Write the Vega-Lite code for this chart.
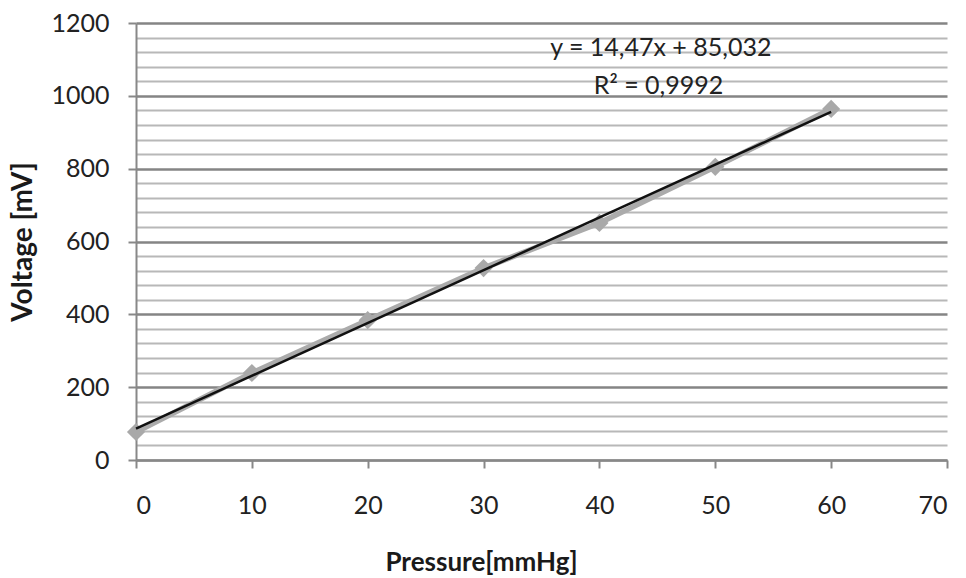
{
  "$schema": "https://vega.github.io/schema/vega-lite/v6.json",
  "width": 811,
  "height": 437,
  "autosize": {"type": "none"},
  "padding": {"left": 136, "top": 23, "right": 19, "bottom": 118},
  "background": "white",
  "config": {"view": {"stroke": null}, "font": "Lato"},
  "datasets": {
    "points": [
      {"pressure": 0, "voltage": 77},
      {"pressure": 10, "voltage": 239},
      {"pressure": 20, "voltage": 384},
      {"pressure": 30, "voltage": 527},
      {"pressure": 40, "voltage": 651},
      {"pressure": 50, "voltage": 805},
      {"pressure": 60, "voltage": 964}
    ],
    "notes": [
      {"pressure": 45.3, "voltage": 1131, "text": "y = 14,47x + 85,032"},
      {"pressure": 45.1, "voltage": 1027, "text": "R² = 0,9992"}
    ]
  },
  "layer": [
    {
      "data": {"name": "points"},
      "mark": {"type": "line", "color": "#ababab", "strokeWidth": 5.5},
      "encoding": {
        "x": {
          "field": "pressure", "type": "quantitative",
          "scale": {"domain": [0, 70], "nice": false},
          "axis": {
            "values": [0, 10, 20, 30, 40, 50, 60, 70],
            "tickCount": 20,
            "title": "Pressure[mmHg]",
            "titleFontSize": 26, "titleFontWeight": "bold", "titleColor": "#1a1a1a",
            "titlePadding": 31, "titleX": 345, "titleAlign": "center",
            "labelFontSize": 25, "labelColor": "#222", "labelPadding": 25,
            "grid": false,
            "domainColor": "#888", "domainWidth": 2,
            "tickColor": "#888", "tickWidth": 2, "tickSize": 8
          }
        },
        "y": {
          "field": "voltage", "type": "quantitative",
          "scale": {"domain": [0, 1200], "nice": false},
          "axis": {
            "values": [0, 40, 80, 120, 160, 200, 240, 280, 320, 360, 400, 440, 480, 520, 560, 600, 640, 680, 720, 760, 800, 840, 880, 920, 960, 1000, 1040, 1080, 1120, 1160, 1200],
            "tickCount": 60,
            "labelOverlap": false,
            "labelExpr": "datum.value % 200 === 0 ? datum.value : ''",
            "title": "Voltage [mV]",
            "titleFontSize": 28, "titleFontWeight": "bold", "titleColor": "#1a1a1a",
            "titlePadding": 13,
            "labelFontSize": 25, "labelColor": "#222", "labelPadding": 19,
            "grid": true,
            "gridColor": {"condition": {"test": "datum.value % 200 === 0", "value": "#858585"}, "value": "#b8b8b8"},
            "gridWidth": {"condition": {"test": "datum.value % 200 === 0", "value": 2.5}, "value": 2},
            "domainColor": "#888", "domainWidth": 2,
            "tickColor": "#888", "tickWidth": 2, "tickSize": 8,
            "tickOpacity": {"condition": {"test": "datum.value % 200 === 0", "value": 1}, "value": 0}
          }
        }
      }
    },
    {
      "data": {"name": "points"},
      "mark": {"type": "point", "shape": "diamond", "filled": true, "color": "#a9a9a9", "opacity": 1, "size": 330},
      "encoding": {
        "x": {"field": "pressure", "type": "quantitative"},
        "y": {"field": "voltage", "type": "quantitative"}
      }
    },
    {
      "data": {"name": "points"},
      "transform": [{"regression": "voltage", "on": "pressure", "extent": [0, 60]}],
      "mark": {"type": "line", "color": "#111", "strokeWidth": 2.5},
      "encoding": {
        "x": {"field": "pressure", "type": "quantitative"},
        "y": {"field": "voltage", "type": "quantitative"}
      }
    },
    {
      "data": {"name": "notes"},
      "mark": {"type": "text", "fontSize": 25, "color": "#222", "baseline": "middle", "align": "center"},
      "encoding": {
        "x": {"field": "pressure", "type": "quantitative"},
        "y": {"field": "voltage", "type": "quantitative"},
        "text": {"field": "text"}
      }
    }
  ]
}
